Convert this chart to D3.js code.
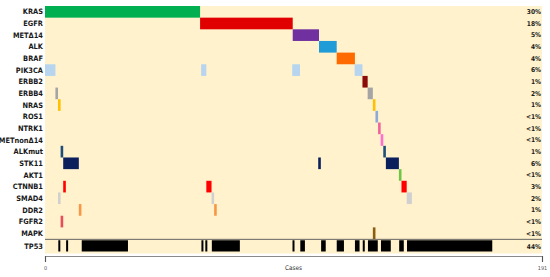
<!DOCTYPE html>
<html>
<head>
<meta charset="utf-8">
<script src="https://cdn.jsdelivr.net/npm/d3@7"></script>
<style>
  html, body { margin: 0; padding: 0; background: #fff; }
  svg { display: block; }
</style>
</head>
<body>
<div id="chart"></div>
<script>
// oncoprint: one row per gene, runs of cases [start, end) on a 0..191 case axis
const genes = ["KRAS", "EGFR", "METΔ14", "ALK", "BRAF", "PIK3CA", "ERBB2", "ERBB4", "NRAS", "ROS1",
  "NTRK1", "METnonΔ14", "ALKmut", "STK11", "AKT1", "CTNNB1", "SMAD4", "DDR2", "FGFR2", "MAPK", "TP53"];
const pcts = ["30%", "18%", "5%", "4%", "4%", "6%", "1%", "2%", "1%", "<1%",
  "<1%", "<1%", "1%", "6%", "<1%", "3%", "2%", "1%", "<1%", "<1%", "44%"];
const colors = ["#00b050", "#e00000", "#7030a0", "#1f9bd7", "#ff6a00", "#b7d5ee", "#8b0a0a", "#a5a5a5", "#ffc000", "#8eaadb",
  "#f0649a", "#ff6fd0", "#1f4e79", "#0a1f5c", "#6cc644", "#ff0000", "#d0d0d0", "#f79646", "#e84d5b", "#8b5e0f", "#000000"];
const runs = [
  [[0, 59.6]],                                                   // KRAS
  [[59.6, 95.2]],                                                // EGFR
  [[95.2, 105.3]],                                               // METΔ14
  [[105.3, 112.1]],                                              // ALK
  [[112.1, 119.1]],                                              // BRAF
  [[0, 4], [60, 62], [95, 98], [119, 122]],                      // PIK3CA
  [[122, 124]],                                                  // ERBB2
  [[4, 5], [124, 126]],                                          // ERBB4
  [[5, 6], [126, 127]],                                          // NRAS
  [[127, 128]],                                                  // ROS1
  [[128, 129]],                                                  // NTRK1
  [[129, 130]],                                                  // METnonΔ14
  [[6, 7], [130, 131]],                                          // ALKmut
  [[7, 13], [105, 106], [131, 136]],                             // STK11
  [[136, 137]],                                                  // AKT1
  [[7, 8], [62, 64], [137, 139]],                                // CTNNB1
  [[5, 6], [64, 65], [139, 141]],                                // SMAD4
  [[13, 14], [65, 66]],                                          // DDR2
  [[6, 7]],                                                      // FGFR2
  [[126, 127]],                                                  // MAPK
  [[5, 6], [8, 9], [14, 32], [60, 61], [61.5, 62.5], [64, 75], [95, 96], [98, 100], [106, 108],
   [112, 115], [119, 121], [122, 123], [124, 128], [129, 133], [136, 138], [139, 172]]  // TP53
];
const xTicks = [0, 191];

const W = 550, H = 277;
const X0 = 45, X1 = 542, TOP = 6, ROWEND = 250.7, BGBOT = 253.5;
const FONT = "'Liberation Sans Narrow', 'DejaVu Sans Condensed', 'Liberation Sans', sans-serif";

const svg = d3.select("#chart").append("svg").attr("width", W).attr("height", H);

const x = d3.scaleLinear().domain([0, 191]).range([X0, X1]);
const y = d3.scaleBand().domain(genes).range([TOP, ROWEND]).padding(0);

// panel background
svg.append("rect").attr("x", X0).attr("y", TOP).attr("width", X1 - X0).attr("height", BGBOT - TOP)
  .attr("fill", "#fff2cc");

// marks
genes.forEach((g, gi) => {
  const isTp = g === "TP53";
  svg.append("g").selectAll("rect").data(runs[gi]).join("rect")
    .attr("x", d => x(d[0]) + (isTp ? 0.3 : 0))
    .attr("width", d => Math.max(0.8, x(d[1]) - x(d[0]) - (isTp ? 0.6 : 0)))
    .attr("y", y(g) + (isTp ? 1.2 : 0))
    .attr("height", y.bandwidth() - (isTp ? 0.4 : 0))
    .attr("fill", colors[gi]);
});

// separator above TP53
svg.append("line").attr("x1", X0).attr("x2", X1).attr("y1", y("TP53") + 0.3).attr("y2", y("TP53") + 0.3)
  .attr("stroke", "#555").attr("stroke-width", 0.9);

// gene labels + percentages
svg.append("g").selectAll("text").data(genes).join("text")
  .attr("x", X0 - 2).attr("y", g => y(g) + y.bandwidth() / 2 + (g === "TP53" ? 1.5 : 0))
  .attr("dy", "0.35em").attr("text-anchor", "end")
  .attr("style", `font:bold 7.4px ${FONT};fill:#1a1a1a`)
  .text(g => g);
svg.append("g").selectAll("text").data(pcts).join("text")
  .attr("x", X1 - 1).attr("y", (p, i) => y(genes[i]) + y.bandwidth() / 2 + (i === 20 ? 1.5 : 0))
  .attr("dy", "0.35em").attr("text-anchor", "end")
  .attr("style", `font:bold 6.6px ${FONT};fill:#1a1a1a`)
  .text(p => p);

// bottom axis
const ax = svg.append("g").attr("transform", `translate(0, ${BGBOT + 2.5})`)
  .call(d3.axisBottom(x).tickValues(xTicks).tickSize(6).tickFormat(d3.format("d")));
ax.select(".domain").attr("stroke", "#8a8a8a").attr("stroke-width", 1.2);
ax.selectAll(".tick line").attr("stroke", "#555");
ax.selectAll(".tick text").attr("style", `font:5.5px ${FONT};fill:#555`).attr("dy", "0.9em");
svg.append("text").attr("x", (X0 + X1) / 2).attr("y", 270).attr("text-anchor", "middle")
  .attr("style", `font:6.4px ${FONT};fill:#333`).text("Cases");
</script>
</body>
</html>
